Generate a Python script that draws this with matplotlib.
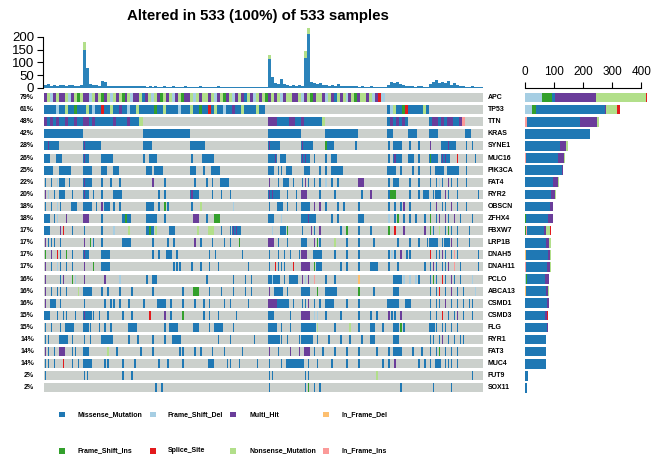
import numpy as np
import matplotlib
matplotlib.use("Agg")
import matplotlib.pyplot as plt
from matplotlib.patches import Rectangle
import matplotlib.transforms as mtransforms

plt.rcParams['font.family'] = ['Liberation Sans', 'DejaVu Sans']

# genes, top to bottom
genes = ["APC", "TP53", "TTN", "KRAS", "SYNE1", "MUC16", "PIK3CA", "FAT4", "RYR2",
         "OBSCN", "ZFHX4", "FBXW7", "LRP1B", "DNAH5", "DNAH11", "PCLO", "ABCA13",
         "CSMD1", "CSMD3", "FLG", "RYR1", "FAT3", "MUC4", "FUT9", "SOX11"]
pct_labels = ["79%", "61%", "48%", "42%", "28%", "26%", "25%", "22%", "20%", "18%",
              "18%", "17%", "17%", "17%", "17%", "16%", "16%", "16%", "15%", "15%",
              "14%", "14%", "14%", "2%", "2%"]

# variant classes (stack order of the side bars) and their one letter codes
classes = ["Frame_Shift_Del", "Frame_Shift_Ins", "In_Frame_Del", "In_Frame_Ins",
           "Missense_Mutation", "Multi_Hit", "Nonsense_Mutation", "Splice_Site"]
codes = ["D", "I", "O", "P", "M", "H", "N", "S"]
class_colors = ["#A6CEE3", "#33A02C", "#FDBF6F", "#FB9A99",
                "#1F78B4", "#6A3D9A", "#B2DF8A", "#E31A1C"]
grey = "#CBD0CC"

# samples per gene and class (right bar plot)
fsd_counts = [60, 24, 3, 2, 3, 2, 2, 2, 2, 0, 3, 2, 2, 2, 0, 6, 0, 1, 1, 1, 1, 1, 0, 0, 0]
fsi_counts = [34, 17, 0, 0, 0, 0, 0, 0, 0, 0, 3, 3, 0, 0, 2, 4, 3, 0, 0, 0, 0, 0, 0, 0, 0]
ifd_counts = [0, 0, 0, 0, 0, 0, 0, 0, 0, 0, 0, 0, 0, 2, 0, 0, 3, 0, 0, 0, 0, 0, 0, 0, 0]
ifi_counts = [0, 0, 5, 0, 0, 2, 0, 0, 0, 0, 0, 2, 0, 2, 4, 0, 0, 0, 0, 0, 0, 0, 0, 0, 0]
missense_counts = [10, 235, 182, 222, 119, 109, 128, 95, 88, 87, 74, 61, 73, 73, 72, 60,
                   69, 77, 69, 77, 72, 71, 73, 11, 10]
multi_counts = [140, 2, 58, 0, 21, 21, 3, 16, 14, 9, 16, 6, 10, 8, 11, 13, 5, 6, 7, 2,
                2, 3, 2, 0, 0]
nonsense_counts = [173, 37, 7, 0, 6, 3, 0, 4, 3, 0, 0, 13, 6, 4, 2, 2, 5, 1, 0, 0, 0,
                   0, 0, 0, 0]
splice_counts = [4, 11, 0, 0, 0, 1, 0, 0, 0, 0, 0, 4, 0, 0, 0, 0, 0, 0, 3, 0, 0, 0, 0, 0, 0]

# oncoplot cells, in column slots (147 slots across the 533 samples)
# "a-bC" = block of slots a..b, "aC" = single thin sample stripe, "@a:XYZ" = dense cells from a
n_slots = 147
gene_events = [
    "@0:HNDHNHHNDHNINHHDNHNIHNDNHNIHNDHHNMHNDNHINHNDHNIHHNDNHNNHNDHNIHNDHNHMNHDNHNIHNHNDHNNHHNDHNIHNNHDNHMNHNDHNIHNNHNDHSD",
    "@0:MMMMDMMNMMIMMMNMDMMSMMNMMHMMDMMNMMMMMIMMNMMMMDMMMNMMIMMSMNMMDMMHMMNMMMMNMM @115:MDNMMISMMMMMNM",
    "@0:HMHMHMMHMMHMMHHMHMMMMMMHMMMMHMMMN @75:HHHMMMMHHMMHMMMMMMN @115:MHMHMHM @129:MHHMHMHHMMHP",
    "0-12M 33-48M 75-85M 94-104M 115-116M 122-124M 129-131M 141-142M",
    "0-4M 1H 13-18M 13H 33-35M 49-53M 75-78M 75H 86-89M 86H 94-96M 94I 104M 115M 117-119M 122M 125M 129H 133-137M 135H 141M 143M",
    "0-1M 4-5M 13-14M 13H 19-22M 33M 35-37M 49M 53-56M 75-77M 77H 79-80M 86-88M 86H 87H 90M 94M 96-97M 115M 117-119M 117H 122-123M 125M 129-131M 129I 133-135M 133H 134H 138S 141M 144M",
    "0-2M 5-8M 13-15M 19-20M 23-24M 34-35M 37-39M 49-50M 53M 56-58M 75-76M 78M 79M 81-82M 87-88M 92M 94M 96-99M 115-117M 119M 123M 125M 129M 131-133M 135-138M 141M",
    "0M 2M 4D 5-6M 8M 13-15M 13H 19M 22M 25M 36H 40M 50M 54M 56M 59-61M 75H 78M 80-81M 83M 86M 87H 88M 90M 92M 94D 96M 98M 105-106H 115M 117-118M 122M 125M 129M 131M 132D 133M 135H 136M 138M 141M",
    "0H 1D 3M 5-6M 9M 13-14M 13H 16M 19M 23-25M 38M 40M 49-51M 49H 56M 59M 62M 75-78M 75H 76H 81M 84M 86-87H 92M 97M 106M 109H 115M 116-117I 122M 125M 127-128M 130M 131-132M 134H 135M 138M 145M",
    "0M 2M 4D 5M 9-10M 13-15M 17M 19H 20-21M 23M 25M 34-35M 36M 38M 40I 41M 49M 52N 63D 75M 78-79M 81M 84M 86-88M 90H 92H 94M 98M 100M 105M 115M 117M 119M 120H 122M 129M 131H 133M 134M 136H 138M 141M",
    "0-1M 3M 4D 7H 13-14H 19M 26-28M 27I 34-37M 40M 50-51H 54M 57-58I 75-76M 79D 86-90M 88H 96M 98M 105-106M 115D 117M 118I 120M 122M 124M 127M 129I 131M 132H 134H 135M 137H 139M 143M",
    "0-1M 5H 6S 9M 13M 19M 23D 28N 34-36M 35I 37N 42-43M 51N 55-56N 59M 62M 63-65M 63H 64H 76D 79-80M 81I 86M 89H 90M 92H 99M 101I 105M 109M 115I 117S 120H 127H 129I 130M 132N 134M 135I 136M 138M 142M",
    "0H 1M 2M 3M 5M 13H 15I 16M 19M 26-28M 36M 41M 43M 50H 52M 56M 60M 62M 65I 75-76H 78M 81M 86-87M 90H 91I 92M 97N 101M 105M 110M 118M 122M 125M 128M 129-131M 133M 134-135M 136H 138M 142M",
    "0I 2H 4S 5M 7I 9M 13-14M 13H 19-21M 36M 38M 41-42M 44M 55M 57M 66M 75M 78M 80M 82M 85M 86-87H 90-92M 97M 101M 105M 115M 116D 117M 119H 121M 122M 129S 131M 132M 133H 134M 136M 137P 138M 145M",
    "0H 2M 4D 5M 7M 9M 13H 16I 19-21M 43M 44M 45M 49M 52M 55M 58M 68M 75M 77S 78M 79M 80M 83S 86-88H 90I 91-92M 99M 101M 105M 109-111M 115M 118M 127M 129M 130H 131M 133M 134M 135H 137P 139M 145M",
    "0H 5M 6H 9I 10D 13H 20H 25D 34M 36-37M 54M 63M 67M 69M 75-78M 76D 80M 82-84M 86H 87D 88H 90P 94M 97M 105O 117-119M 120D 122D 124D 125M 129M 130I 131M 133S 134M 136H 137M 139M 143D",
    "0H 2M 4M 5M 7M 11N 13-15M 19M 21M 25M 29M 36M 46M 50-51I 55M 59M 63M 67M 69M 75H 77-79M 81M 86-88M 91I 94-97M 105I 110M 117-118M 129M 131M 132S 134M 136H 138M 140M 144D",
    "0H 2-3M 5M 13M 20M 22M 23M 25M 28M 33M 38-40M 42M 46M 50M 53M 55M 60M 62M 68M 75-77H 78-81M 83M 86M 87M 88H 90M 92M 94-96M 101M 105M 115-118M 121-122M 129M 131M 132M 134H 136M 138M 140M 142M 143M",
    "0-1M 4M 6M 7M 10M 13-15M 13H 16M 18M 21M 26M 29M 35S 40H 42M 46I 53M 55M 58M 64M 75-76M 82M 86-88H 90D 91D 94M 99M 105M 109M 111M 115H 116M 117M 119H 129M 131M 133S 135M 137M 138H 140M 143M",
    "0M 2M 5M 7-9M 13-14M 15M 18M 20M 22M 28-30M 40M 42-44M 50-51M 55M 57-59M 63M 75-77M 79M 82M 86-90M 91N 97M 102N 105M 109-110M 113M 117-118M 119I 120M 129-130M 131M 133M 134M 136M 138M",
    "0M 1M 5-7M 9M 13M 15M 19-22M 28M 31M 36M 40M 43-45M 58M 62M 70M 75-78M 79M 81M 85M 86-89M 91M 95M 99M 102M 106M 109-110M 117-118M 129M 130M 132M 133H 135M 137M 139M 140M",
    "0H 1M 3M 5-6H 9M 10M 13-14M 21N 24M 32M 36M 45M 46M 50M 52M 56M 60M 66M 75H 78M 82H 85H 87-88H 90M 93M 97M 101M 105M 111M 115M 117-119M 123M 126M 129M 131M 132I 134M 136M 138M",
    "0M 1M 3M 6S 9M 11M 13-15M 20M 21M 26M 30M 38M 41M 46M 55-56M 61M 62M 65M 71M 75M 79M 81-86M 88M 91M 96M 101M 105M 113M 115M 117H 125M 127M 129M 131-132M 134M 135M 136M 138M",
    "0M 13M 14M 26M 29M 75M 76M 87M 88M 111N 143M",
    "37M 39M 75M 87M 88I 90M 92M 119M 130M 136M",
]

# mutation burden per slot (top bar plot); spikes carry a nonsense part on top
tmb_total = [10, 14, 9, 12, 8, 11, 13, 9, 10, 12, 8, 9, 11,
             180, 78, 14, 12, 10, 9, 27, 22,
             8, 7, 9, 6, 8, 7, 6, 8, 7, 9, 6, 7,
             6, 5, 7, 5, 6, 4, 5, 6, 5, 4, 6, 5, 4, 5, 6, 5,
             4, 5, 4, 6, 5, 4, 3, 5, 4, 6, 4, 3, 5, 4, 3, 4, 5, 3, 4, 3, 4, 5, 3, 4, 3,
             3, 130, 43, 20, 15, 35,
             14, 10, 9, 12, 8, 10, 9,
             146, 236, 22, 18, 15, 20, 12,
             12, 9, 10, 8, 14, 7, 9, 6, 8, 7, 6,
             5, 6, 4, 5, 6, 4, 5, 4, 5, 4,
             12, 25, 18, 22, 15, 10, 8,
             6, 8, 5, 7, 6, 4, 5,
             15, 22, 30, 18, 25, 20, 28, 12, 18, 10, 8, 6,
             5, 4, 6, 3, 4, 3]
spike_slots = [13, 75, 87, 88]
spike_top = [30, 15, 28, 25]

color_of = dict(zip(codes, class_colors))
W, H = 660, 466
fig = plt.figure(figsize=(W / 100, H / 100), dpi=100)

# ---- top: mutation burden
ax_top = fig.add_axes([44 / W, 1 - 88 / H, 439 / W, 62.5 / H])
tmb_total = np.array(tmb_total, dtype=float)
tmb_nons = np.zeros(n_slots)
tmb_nons[spike_slots] = spike_top
tmb_blue = tmb_total - tmb_nons
xs = np.arange(n_slots) + 0.5
ax_top.bar(xs, tmb_blue, width=1.0, color="#2B83BA", linewidth=0)
ax_top.bar(xs, tmb_nons, bottom=tmb_blue, width=1.0, color="#B2DF8A", linewidth=0)
ax_top.set_xlim(0, n_slots)
ax_top.set_ylim(0, 245)
for s in ["top", "right", "bottom"]:
    ax_top.spines[s].set_visible(False)
ax_top.spines["left"].set_bounds(0, 200)
ax_top.spines["left"].set_position(("outward", 1))
ax_top.spines["left"].set_linewidth(0.8)
ax_top.set_xticks([])
ax_top.set_yticks([0, 50, 100, 150, 200])
ax_top.tick_params(axis="y", labelsize=9.5, length=4, width=0.8, pad=2)

# ---- oncoplot matrix
ax_mat = fig.add_axes([44 / W, 1 - 394 / H, 439 / W, 302.5 / H])
ax_mat.set_xlim(0, n_slots)
ax_mat.set_ylim(len(genes) - 0.5, -0.5)
ax_mat.axis("off")
cell_h = 0.75
rows = np.arange(len(genes))
ax_mat.barh(rows, n_slots, left=0, height=cell_h, color=grey, linewidth=0)

for r, ev in enumerate(gene_events):
    for tok in ev.split():
        if tok.startswith("@"):
            start, cells = tok[1:].split(":")
            pos = int(start)
            # merge runs of the same class into one block
            k = 0
            while k < len(cells):
                j = k
                while j + 1 < len(cells) and cells[j + 1] == cells[k]:
                    j += 1
                if cells[k] != ".":
                    ax_mat.barh(r, j - k + 1.08, left=pos + k - 0.04, height=cell_h,
                                color=color_of[cells[k]], linewidth=0)
                k = j + 1
            continue
        c = tok[-1]
        pos = tok[:-1]
        if "-" in pos:
            a, b = map(int, pos.split("-"))
            ax_mat.barh(r, b + 1 - a, left=a, height=cell_h, color=color_of[c], linewidth=0)
        else:
            a = int(pos)
            ax_mat.barh(r, 0.5, left=a + 0.25, height=cell_h, color=color_of[c], linewidth=0)

trans_l = mtransforms.blended_transform_factory(ax_mat.transAxes, ax_mat.transData)
for r in rows:
    ax_mat.text(-0.023, r, pct_labels[r], transform=trans_l, ha="right", va="center",
                fontsize=5, fontweight="bold")
    ax_mat.text(1.0107, r, genes[r], transform=trans_l, ha="left", va="center",
                fontsize=5, fontweight="bold")

# ---- right: samples per gene, stacked by class
ax_bar = fig.add_axes([524.5 / W, 1 - 394 / H, 125.6 / W, 306 / H])
ax_bar.set_xlim(0, 430)
ax_bar.set_ylim(len(genes) - 0.5, -0.5 - 3.5 / 12.1)
all_counts = [fsd_counts, fsi_counts, ifd_counts, ifi_counts, missense_counts,
              multi_counts, nonsense_counts, splice_counts]
left = np.zeros(len(genes))
for cnt, col in zip(all_counts, class_colors):
    cnt = np.array(cnt, dtype=float)
    ax_bar.barh(rows, cnt, left=left, height=0.8, color=col, linewidth=0)
    left += cnt
for s in ["bottom", "right", "left"]:
    ax_bar.spines[s].set_visible(False)
ax_bar.spines["top"].set_bounds(0, 400)
ax_bar.spines["top"].set_linewidth(0.8)
ax_bar.xaxis.tick_top()
ax_bar.set_xticks([0, 100, 200, 300, 400])
ax_bar.set_yticks([])
ax_bar.tick_params(axis="x", labelsize=8.5, length=4, width=0.8, pad=3)

# ---- title
fig.text(258 / W, 1 - 16 / H, "Altered in 533 (100%) of 533 samples", ha="center",
         va="center", fontsize=10.8, fontweight="bold")

# ---- legend
ax_leg = fig.add_axes([0, 0, 1, 1], zorder=-1)
ax_leg.set_xlim(0, W)
ax_leg.set_ylim(H, 0)
ax_leg.axis("off")
legend_order = ["Missense_Mutation", "Frame_Shift_Del", "Multi_Hit", "In_Frame_Del",
                "Frame_Shift_Ins", "Splice_Site", "Nonsense_Mutation", "In_Frame_Ins"]
marker_x = [62, 153, 233, 326]
text_x = [78, 168, 249, 342]
row_y = [414.5, 451]
for k, name in enumerate(legend_order):
    col = class_colors[classes.index(name)]
    mx, tx, yy = marker_x[k % 4], text_x[k % 4], row_y[k // 4]
    ax_leg.add_patch(Rectangle((mx - 2.6, yy - 2.6), 5.2, 5.2, color=col, linewidth=0))
    ax_leg.text(tx, yy, name, ha="left", va="center", fontsize=5, fontweight="bold")

fig.savefig("out.png", dpi=100)
